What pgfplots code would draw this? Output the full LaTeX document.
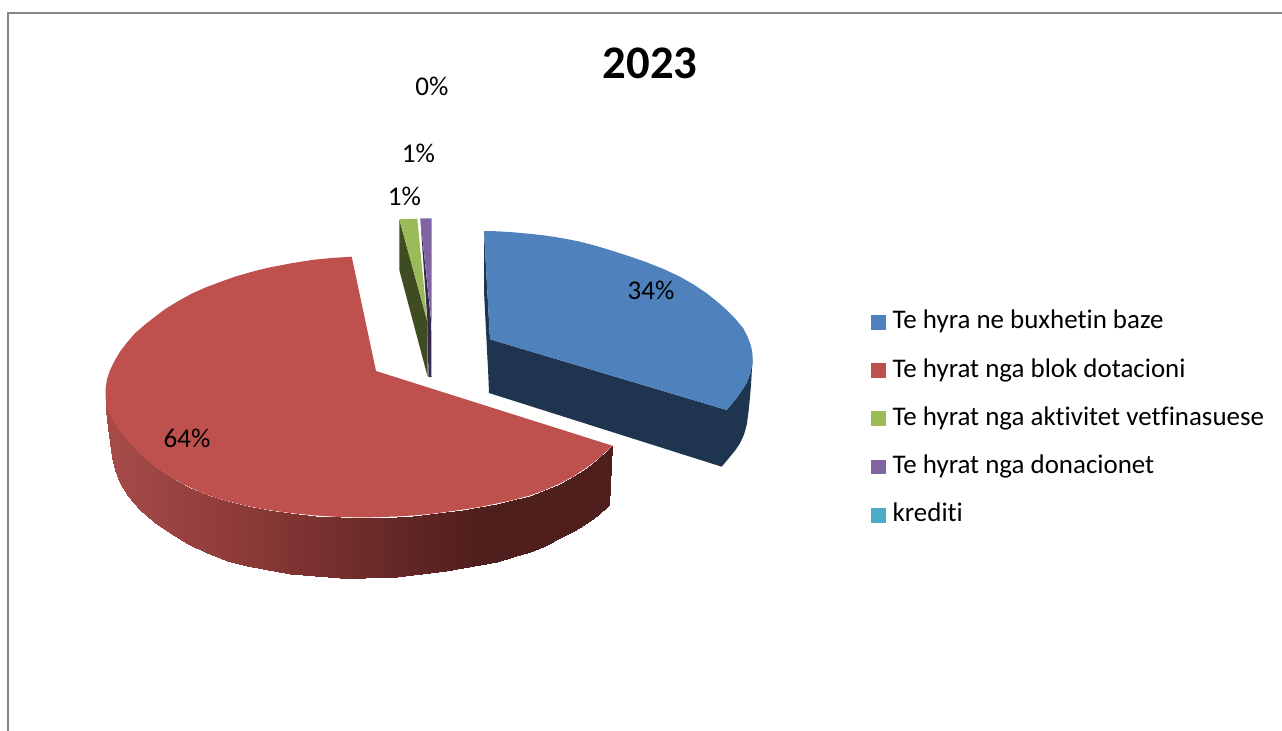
\documentclass[border=0pt]{standalone}
\usepackage{pgfplots}
\pgfplotsset{compat=1.18}
\usepackage{fontspec}
\setmainfont{Carlito}[Ligatures=NoCommon]
\definecolor{bluetop}{HTML}{4F81BD}
\definecolor{blueside}{HTML}{1F344F}
\definecolor{redtop}{HTML}{BE504D}
\definecolor{greentop}{HTML}{9BBB59}
\definecolor{greenside}{HTML}{3F4C22}
\definecolor{purpletop}{HTML}{8064A2}
\definecolor{purpleside}{HTML}{352A4E}
\definecolor{teal1}{HTML}{4BACC6}
\definecolor{framegray}{HTML}{868686}
% outline of the red wall: upper edge, then lower edge
\pgfplotstableread{
x y
105.7 388.3
106 403
108 411
111.7 418
115 424.5
120 431.5
128 441
140 454
154 466
170 477
188 486.5
207 495
227 501
247 506
268 510
290 513
315 515.5
340 517
365 517.5
396.7 516.5
413 515.5
430 514
446 512
463 509.5
480 507
496.7 503.5
513 500
530 495.5
545 490
560 483.5
574 476
586.7 467.5
598 459
609 449
612.3 445.7
105.7 388.3
106.5 410
108 428
111.7 457
115 470
120 483
128 496
140 510
154 522
170 533
188 544
207 553
227 560.5
247 566
268 570
290 573.5
315 576
340 577.5
365 578
396.7 576.5
413 575
430 573
446 570.5
463 568
480 565
496.7 561.7
513 557
530 551.7
545 545.5
560 538
574 531
586.7 523
598 514.5
609 505
609 505
}\redwall
\begin{document}
\begin{tikzpicture}
\begin{axis}[
    width=961.5pt, height=548.25pt, scale only axis,
    hide axis,
    xmin=0, xmax=1282, ymin=0, ymax=731, y dir=reverse,
    colormap={redwall}{rgb255(0pt)=(166,76,73) rgb255(127pt)=(143,60,58) rgb255(253pt)=(110,44,42) rgb255(375pt)=(79,31,29) rgb255(507pt)=(79,31,29)},
    legend style={at={(axis cs:871,309.5)}, anchor=north west, draw=none, fill=none,
      inner sep=0pt, outer sep=0pt, font=\fontsize{20.2}{22}\selectfont, row sep=17.2pt,
      nodes={inner ysep=0pt, text height=14.5pt, text depth=4.5pt}},
    legend cell align=left,
    legend image code/.code={\path (0pt,0pt) -- (14.25pt,0pt); \fill[#1] (0pt,-5.6pt) rectangle (11.25pt,5.6pt);},
  ]
\addlegendimage{draw=none,fill=bluetop}
\addlegendimage{draw=none,fill=redtop}
\addlegendimage{draw=none,fill=greentop}
\addlegendimage{draw=none,fill=purpletop}
\addlegendimage{draw=none,fill=teal1}
\path[use as bounding box] (axis cs:0,0) rectangle (axis cs:1282,731);

% frame
\addplot[forget plot, framegray, line width=1.5pt] coordinates {(8,731) (8,13) (1282,13)};

% red slice: wall, then top
\addplot[forget plot, surf, shader=interp, mesh/rows=2, point meta=x, point meta min=105, point meta max=612] table {\redwall};
\addplot[forget plot, draw=none, fill=redtop] coordinates {
  (376,371) (351.7,256.7) (331,258) (311.7,260) (290,263.5) (268.3,267.7) (251,272) (235,276.7)
  (220,282) (205,287.7) (191,294) (178.3,301) (166,308.5) (155,316.7) (144.5,325) (135,333.3)
  (127,342.5) (120,351.7) (114.5,361) (110,370) (107,379) (105.7,388.3) (105.6,396) (106,403)
  (108,411) (111.7,418) (115,424.5) (120,431.5) (128,441) (140,454) (154,466) (170,477) (188,486.5)
  (207,495) (227,501) (247,506) (268,510) (290,513) (315,515.5) (340,517) (365,517.5) (396.7,516.5)
  (413,515.5) (430,514) (446,512) (463,509.5) (480,507) (496.7,503.5) (513,500) (530,495.5) (545,490)
  (560,483.5) (574,476) (586.7,467.5) (598,459) (609,449) (612.3,445.7)
} --cycle;

% blue slice: dark faces, then top
\addplot[forget plot, draw=none, fill=blueside] coordinates {
  (490,339.3) (726.7,410) (736.7,398) (746.7,383) (750.7,371.7) (752.7,358.3) (752.3,365) (751.7,373)
  (751,385) (750,397) (748.6,411) (746.7,425) (744,434.5) (740,443.3) (735.5,450) (730,456.7)
  (726,461.5) (721.7,466.7) (489,393) (488.3,375) (484,291.7) (484,231)
} --cycle;
\addplot[forget plot, draw=none, fill=bluetop] coordinates {
  (484,231) (498,231.3) (513.3,232.3) (530,233.8) (546.7,235.7) (563,238.3) (580,241.7) (596.5,246)
  (613,251) (630,256.5) (646.7,262.3) (663.5,269) (680,276.7) (693.5,284.5) (706.7,293.3) (717,301.5)
  (726.7,310) (735.5,319) (743.3,328.3) (747.5,336.5) (750.7,345) (752.2,351.5) (752.7,358.3)
  (752.2,365) (750.7,371.7) (749,377.5) (746.7,383) (742,390.5) (736.7,398) (732,404) (726.7,410)
  (490,339.3)
} --cycle;

% green slice
\addplot[forget plot, draw=none, fill=greenside] coordinates {
  (399.3,219.3) (399.3,270) (427.7,377) (427.5,322)
} --cycle;
\addplot[forget plot, draw=none, fill=greentop] coordinates {
  (399.3,219.3) (417.3,218.7) (427.3,321.7)
} --cycle;

% purple slice
\addplot[forget plot, draw=none, fill=purpleside] coordinates {
  (420.3,218.3) (427.5,322) (428.5,377) (431.5,377) (431.2,322)
} --cycle;
\addplot[forget plot, draw=none, fill=purpletop] coordinates {
  (420.3,218.3) (431.7,218.3) (431.5,322)
} --cycle;

% percentage labels
\node[font=\fontsize{20.3}{22}\selectfont] at (axis cs:651,290) {34\%};
\node[font=\fontsize{20.3}{22}\selectfont] at (axis cs:187,438) {64\%};
\node[font=\fontsize{20.3}{22}\selectfont] at (axis cs:404.5,196) {1\%};
\node[font=\fontsize{20.3}{22}\selectfont] at (axis cs:418.5,153) {1\%};
\node[font=\fontsize{20.3}{22}\selectfont] at (axis cs:432,86) {0\%};
\node[font=\fontsize{35}{38}\selectfont\bfseries] at (axis cs:650,63) {2023};

\legend{Te hyra ne buxhetin baze, Te hyrat nga blok dotacioni, Te hyrat nga aktivitet vetfinasuese, Te hyrat nga donacionet, krediti}
\end{axis}
\end{tikzpicture}
\end{document}
